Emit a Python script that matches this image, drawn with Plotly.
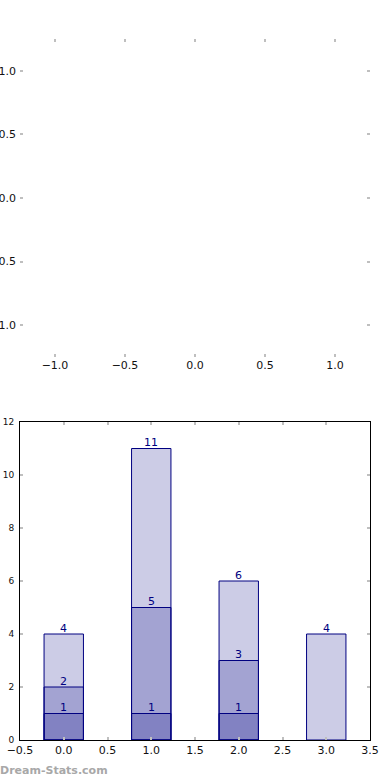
import plotly.graph_objects as go

# Data
categories = [0, 1, 2, 3]
series_total = [4, 11, 6, 4]
series_mid = [2, 5, 3, 0]
series_low = [1, 1, 1, 0]

top_xticks = [-1.0, -0.5, 0.0, 0.5, 1.0]
top_yticks = [-1.0, -0.5, 0.0, 0.5, 1.0]
bot_xticks = [-0.5, 0.0, 0.5, 1.0, 1.5, 2.0, 2.5, 3.0, 3.5]
bot_yticks = [0, 2, 4, 6, 8, 10, 12]

NAVY = "#000080"
FILL = "rgba(0,0,128,0.2)"
TICKC = "#bfbfbf"
FONT = "DejaVu Sans"

fig = go.Figure()

for vals in (series_total, series_mid, series_low):
    fig.add_trace(go.Bar(
        x=categories, y=[v if v else None for v in vals], width=0.45,
        marker=dict(color=FILL, line=dict(color=NAVY, width=1)),
        xaxis="x2", yaxis="y2", showlegend=False, hoverinfo="skip",
    ))

annotations = []
for vals in (series_total, series_mid, series_low):
    for xc, v in zip(categories, vals):
        if v == 0:
            continue
        annotations.append(dict(
            x=xc, y=v, xref="x2", yref="y2", text=str(v), showarrow=False,
            yanchor="middle", yshift=6,
            font=dict(family=FONT, size=11, color=NAVY),
        ))

annotations.append(dict(
    x=0, y=10 / 780, xref="paper", yref="paper", xanchor="left", yanchor="middle",
    xshift=-2, text="<b>Dream-Stats.com</b>", showarrow=False,
    font=dict(family=FONT, size=11, color="#a8a8a8"),
))

# invisible trace to activate top axes
fig.add_trace(go.Scatter(x=[None], y=[None], xaxis="x", yaxis="y", showlegend=False))

xd = [20 / 390, 370 / 390]
common_tick = dict(ticks="inside", ticklen=3, tickwidth=1.5, tickcolor=TICKC,
                   showgrid=False, zeroline=False, automargin=False)

fig.update_layout(
    width=390, height=780,
    margin=dict(l=0, r=0, t=0, b=0, autoexpand=False),
    paper_bgcolor="white", plot_bgcolor="white",
    barmode="overlay",
    font=dict(family=FONT, color="#111111"),
    xaxis=dict(domain=xd, anchor="y", range=[-1.25, 1.25], tickvals=top_xticks,
               tickformat=".1f", showline=False, mirror="ticks",
               tickfont=dict(size=11), **common_tick),
    yaxis=dict(domain=[1 - 357 / 780, 1 - 39 / 780], anchor="x", range=[-1.25, 1.25],
               tickvals=top_yticks, tickformat=".1f", showline=False, mirror="ticks",
               ticklabelstandoff=3, tickfont=dict(size=11), **common_tick),
    xaxis2=dict(domain=xd, anchor="y2", range=[-0.5, 3.5], tickvals=bot_xticks,
                tickformat=".1f", showline=True, linecolor="black", linewidth=1,
                mirror="ticks", tickfont=dict(size=11), **common_tick),
    yaxis2=dict(domain=[1 - 740 / 780, 1 - 422 / 780], anchor="x2", range=[0, 12],
                tickvals=bot_yticks, showline=True, linecolor="black", linewidth=1,
                mirror="ticks", ticklabelstandoff=3, tickfont=dict(size=9), **common_tick),
    annotations=annotations,
)

fig.write_html(
    "out.html",
    config={"displayModeBar": False},
    post_script="document.body.style.margin='0';document.body.style.overflow='hidden';",
)
